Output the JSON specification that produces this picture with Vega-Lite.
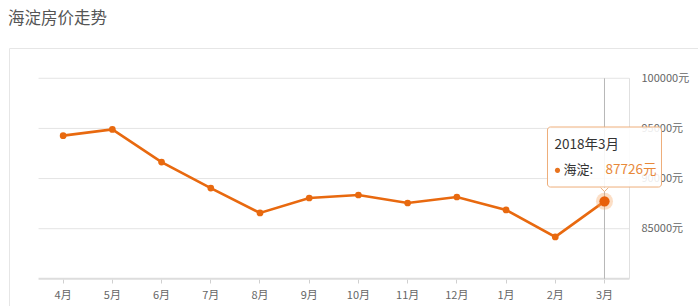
{
  "$schema": "https://vega.github.io/schema/vega-lite/v6.json",
  "width": 689,
  "height": 258,
  "autosize": {"type": "none"},
  "padding": {"left": 9, "top": 48, "right": 0, "bottom": 0},
  "title": {"text": "海淀房价走势", "anchor": "start", "frame": "group", "offset": 21, "dx": -1, "fontSize": 16.5, "fontWeight": "normal", "color": "#555555", "font": "Noto Sans CJK SC"},
  "config": {"view": {"stroke": null}, "font": "Noto Sans CJK SC"},
  "datasets": {
    "price": [
      {"month": "4月", "price": 94280},
      {"month": "5月", "price": 94900},
      {"month": "6月", "price": 91640},
      {"month": "7月", "price": 89050},
      {"month": "8月", "price": 86570},
      {"month": "9月", "price": 88060},
      {"month": "10月", "price": 88360},
      {"month": "11月", "price": 87560},
      {"month": "12月", "price": 88160},
      {"month": "1月", "price": 86870},
      {"month": "2月", "price": 84180},
      {"month": "3月", "price": 87726}
    ],
    "grid": [{"v": 85000}, {"v": 90000}, {"v": 95000}, {"v": 100000}],
    "tip": [{"month": "3月", "label": "2018年3月", "name": "海淀:", "value": "87726元", "price": 87726, "top": 95140, "bottom": 89155}]
  },
  "layer": [
    {
      "data": {"name": "grid"},
      "mark": {"type": "rule", "color": "#e4e4e4", "strokeWidth": 1, "xOffset": -24.6, "x2Offset": 25},
      "encoding": {
        "x": {"datum": "4月", "type": "nominal", "scale": {"type": "band", "domain": ["4月","5月","6月","7月","8月","9月","10月","11月","12月","1月","2月","3月"], "paddingInner": 0, "paddingOuter": 1, "align": 0.3}, "axis": null},
        "x2": {"datum": "3月"},
        "y": {"field": "v", "type": "quantitative", "scale": {"domain": [77290, 103020], "nice": false, "zero": false}, "axis": {"orient": "left", "labels": false, "ticks": false, "grid": false, "domain": true, "domainColor": "#e6e6e6", "title": null}}
      }
    },
    {
      "data": {"name": "tip"},
      "mark": {"type": "rule", "color": "#dddddd", "strokeWidth": 2, "xOffset": -24.6, "x2Offset": 25},
      "encoding": {
        "x": {"datum": "4月", "type": "nominal", "axis": null},
        "x2": {"datum": "3月"},
        "y": {"datum": 80000, "type": "quantitative", "axis": null}
      }
    },
    {
      "data": {"name": "tip"},
      "mark": {"type": "rule", "color": "#e0e0e0", "strokeWidth": 1, "xOffset": 25},
      "encoding": {
        "x": {"datum": "3月", "type": "nominal", "axis": null},
        "y": {"datum": 100000, "type": "quantitative", "axis": null},
        "y2": {"datum": 80000}
      }
    },
    {
      "data": {"name": "tip"},
      "mark": {"type": "rule", "color": "#b8b8b8", "strokeWidth": 1},
      "encoding": {
        "x": {"field": "month", "type": "nominal", "axis": {"orient": "top", "labels": false, "ticks": false, "grid": false, "domain": true, "domainColor": "#e6e6e6", "title": null}},
        "y": {"datum": 100000, "type": "quantitative", "axis": null},
        "y2": {"datum": 80000}
      }
    },
    {
      "data": {"name": "price"},
      "mark": {"type": "line", "color": "#e8690f", "strokeWidth": 2.6},
      "encoding": {
        "x": {"field": "month", "type": "nominal", "sort": null,
          "axis": {"orient": "bottom", "offset": -27, "title": null, "domain": false, "grid": false, "ticks": true, "tickColor": "#d0d0d0", "tickSize": 4, "labelPadding": 6, "labelAngle": 0, "labelFontSize": 11, "labelColor": "#666666", "labelFont": "Noto Sans CJK SC"}},
        "y": {"field": "price", "type": "quantitative",
          "axis": {"orient": "right", "offset": -68, "title": null, "domain": false, "grid": false, "ticks": false, "tickSize": 0, "labelPadding": 11, "values": [85000, 90000, 95000, 100000], "format": "d", "labelExpr": "datum.label + '元'", "labelFontSize": 11, "labelColor": "#666666", "labelFont": "Noto Sans CJK SC"}}
      }
    },
    {
      "data": {"name": "price"},
      "mark": {"type": "point", "filled": true, "color": "#e8690f", "size": 45, "opacity": 1},
      "encoding": {
        "x": {"field": "month", "type": "nominal", "axis": null},
        "y": {"field": "price", "type": "quantitative", "axis": null}
      }
    },
    {
      "data": {"name": "tip"},
      "mark": {"type": "point", "filled": true, "color": "#f5a05a", "size": 290, "opacity": 0.35},
      "encoding": {
        "x": {"field": "month", "type": "nominal", "axis": null},
        "y": {"field": "price", "type": "quantitative", "axis": null}
      }
    },
    {
      "data": {"name": "tip"},
      "mark": {"type": "point", "filled": true, "color": "#e8600a", "size": 105, "opacity": 1},
      "encoding": {
        "x": {"field": "month", "type": "nominal", "axis": null},
        "y": {"field": "price", "type": "quantitative", "axis": null}
      }
    },
    {
      "data": {"name": "tip"},
      "mark": {"type": "bar", "width": 114, "fill": "#ffffff", "fillOpacity": 0.88, "stroke": "#eeae7a", "strokeWidth": 1, "cornerRadius": 3},
      "encoding": {
        "x": {"field": "month", "type": "nominal", "axis": null},
        "y": {"field": "top", "type": "quantitative", "axis": null},
        "y2": {"field": "bottom"}
      }
    },
    {
      "data": {"name": "tip"},
      "mark": {"type": "point", "shape": "M -1 -0.6 L 0 0.4 L 1 -0.6", "filled": false, "fill": "#ffffff", "stroke": "#eeae7a", "strokeWidth": 1, "size": 60, "yOffset": 3, "opacity": 1},
      "encoding": {
        "x": {"field": "month", "type": "nominal", "axis": null},
        "y": {"field": "bottom", "type": "quantitative", "axis": null}
      }
    },
    {
      "data": {"name": "tip"},
      "mark": {"type": "text", "align": "left", "baseline": "middle", "dx": -50, "dy": -56, "fontSize": 13.5, "color": "#333333", "font": "Noto Sans CJK SC"},
      "encoding": {
        "x": {"field": "month", "type": "nominal", "axis": null},
        "y": {"field": "price", "type": "quantitative", "axis": null},
        "text": {"field": "label"}
      }
    },
    {
      "data": {"name": "tip"},
      "mark": {"type": "point", "filled": true, "color": "#e8731e", "size": 26, "xOffset": -47, "yOffset": -31, "opacity": 1},
      "encoding": {
        "x": {"field": "month", "type": "nominal", "axis": null},
        "y": {"field": "price", "type": "quantitative", "axis": null}
      }
    },
    {
      "data": {"name": "tip"},
      "mark": {"type": "text", "align": "left", "baseline": "middle", "dx": -41, "dy": -31, "fontSize": 13, "color": "#333333", "font": "Noto Sans CJK SC"},
      "encoding": {
        "x": {"field": "month", "type": "nominal", "axis": null},
        "y": {"field": "price", "type": "quantitative", "axis": null},
        "text": {"field": "name"}
      }
    },
    {
      "data": {"name": "tip"},
      "mark": {"type": "text", "align": "left", "baseline": "middle", "dx": 1, "dy": -31, "fontSize": 13.5, "color": "#e8893a", "font": "Noto Sans CJK SC"},
      "encoding": {
        "x": {"field": "month", "type": "nominal", "axis": null},
        "y": {"field": "price", "type": "quantitative", "axis": null},
        "text": {"field": "value"}
      }
    }
  ]
}
